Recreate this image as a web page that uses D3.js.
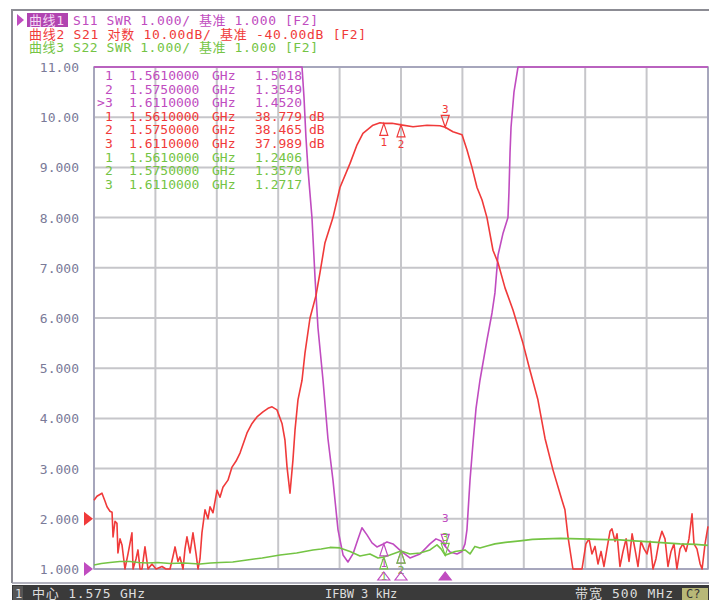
<!DOCTYPE html>
<html>
<head>
<meta charset="utf-8">
<script src="https://cdn.jsdelivr.net/npm/d3@7"></script>
<style>
body { margin: 0; background: #fff; }
text { font-family: "DejaVu Sans Mono", "Noto Sans CJK SC", monospace; }
</style>
</head>
<body>
<div id="chart"></div>
<script>
var width = 709;
var height = 600;

// header lines
var headerLabels = ['曲线1', '曲线2', '曲线3'];
var headerTexts = [' S11 SWR 1.000/ 基准 1.000 [F2]',
                   ' S21 对数 10.00dB/ 基准 -40.00dB [F2]',
                   ' S22 SWR 1.000/ 基准 1.000 [F2]'];

// axis: 1.575 GHz centre, 500 MHz span
var freqStart = 1325, freqStop = 1825;
var yTicks = [1, 2, 3, 4, 5, 6, 7, 8, 9, 10, 11];
var xDivs = [1325, 1375, 1425, 1475, 1525, 1575, 1625, 1675, 1725, 1775, 1825];

// markers
var markerFreq = [1561, 1575, 1611];
var s11Mark = [1.5018, 1.3549, 1.4520];
var s21Mark = [38.779, 38.465, 37.989];
var s22Mark = [1.2406, 1.3570, 1.2717];

// S11 SWR (clipped at 11 on screen)
var s11Freq = [1325, 1494.4, 1496.0, 1497.6, 1499.3, 1502.5, 1505.0, 1507.4, 1511.5, 1515.5, 1519.6,
               1523.7, 1527.8, 1531.8, 1535.9, 1540.0, 1543.2, 1547.3, 1551.4, 1555.4, 1561, 1563.6,
               1568.5, 1575, 1582.3, 1590.5, 1598.6, 1603.5, 1607.6, 1611, 1614.9, 1620.6, 1624.7,
               1627.1, 1628.7, 1631.2, 1633.6, 1636.1, 1639.3, 1645.0, 1649.1, 1651.5, 1654.0, 1658.1,
               1662.1, 1662.9, 1663.8, 1664.6, 1667.0, 1670.3, 1825];
var s11Swr = [11, 11, 10.4, 9.6, 8.95, 8.0, 6.8, 5.8, 4.76, 3.6, 2.77,
              1.78, 1.28, 1.14, 1.3, 1.6, 1.82, 1.68, 1.52, 1.44, 1.5018, 1.54,
              1.5, 1.3549, 1.22, 1.3, 1.5, 1.6, 1.56, 1.452, 1.34, 1.3, 1.35,
              1.5, 1.78, 2.77, 3.5, 4.2, 4.76, 5.56, 6.1, 6.5, 7.25, 7.69,
              8.0, 8.5, 9.3, 9.8, 10.5, 11, 11];

// S21 log mag dB
var s21Freq = [1325, 1327.4, 1331.5, 1334.0, 1335.6, 1338.0, 1339.7, 1340.5, 1342.1, 1343.7, 1344.5,
               1346.2, 1347.8, 1350.2, 1352.7, 1355.9, 1356.8, 1359.2, 1360.8, 1362.5, 1364.1, 1366.5,
               1369.0, 1372.2, 1375.5, 1380.4, 1383.6, 1386.9, 1389.3, 1391.0, 1393.4, 1395.0, 1397.5,
               1399.1, 1400.7, 1403.2, 1405.6, 1408.1, 1409.7, 1411.3, 1412.9, 1415.4, 1417.8, 1419.5,
               1421.9, 1425.2, 1427.6, 1430.0, 1434.1, 1437.4, 1440.7, 1443.9, 1449.6, 1453.7, 1457.7,
               1462.6, 1466.7, 1470.0, 1474.0, 1478.1, 1480.5, 1482.2, 1484.6, 1487.0, 1488.7, 1491.1,
               1494.4, 1496.8, 1500.9, 1505.8, 1509.0, 1513.1, 1519.6, 1525.3, 1533.5, 1539.2, 1544.0,
               1552.2, 1557.9, 1561, 1567.7, 1575, 1584.8, 1596.2, 1606.7, 1611, 1617.3, 1624.7,
               1628.7, 1632.8, 1636.9, 1641.0, 1645.0, 1649.9, 1654.0, 1659.7, 1666.2, 1674.3, 1680.0,
               1686.5, 1692.3, 1698.8, 1706.1, 1708.5, 1711.0, 1715.0, 1719.1, 1722.4, 1725.6, 1728.1,
               1730.5, 1733.0, 1735.4, 1737.9, 1740.3, 1742.7, 1745.2, 1746.8, 1749.3, 1750.9, 1753.3,
               1755.8, 1758.3, 1760.7, 1763.2, 1765.5, 1768.0, 1770.4, 1772.9, 1775.3, 1777.8, 1780.2,
               1782.6, 1785.1, 1787.5, 1790.0, 1792.4, 1794.9, 1797.3, 1799.7, 1802.2, 1804.6, 1807.1,
               1809.5, 1812.0, 1813.6, 1816.0, 1818.6, 1820.2, 1822.6, 1825];
var s21Db = [-36.3, -35.5, -34.9, -36.5, -37.6, -38.5, -38.7, -43.6, -40.5, -40.9, -46.8,
             -44.0, -45.2, -50, -47, -42.8, -50, -48, -46.2, -50, -50, -45.6,
             -50, -49, -50, -49.5, -50, -50, -47.5, -45.6, -48.5, -47.6, -50,
             -46, -43.6, -46.8, -42.8, -47, -50, -48, -42.8, -38.2, -40, -37.6,
             -38.8, -34.3, -35.7, -33.7, -32.3, -29.7, -28.5, -26.9, -22.9, -21, -19.7,
             -18.7, -18, -17.7, -18.3, -21, -24.3, -29.7, -34.9, -28.3, -22.3, -16.3,
             -12.4, -7, 0, 4.5, 9, 15, 20, 26, 30.8, 34.5, 36.8,
             38.4, 38.9, 38.779, 38.8, 38.465, 38.1, 38.4, 38.3, 37.989, 37.1, 36.5,
             33.5, 30, 26, 23.5, 20, 13.5, 11, 6, 1.6, -5, -10.4,
             -16.3, -24, -30.3, -36.3, -38.2, -43.6, -50, -50, -50, -45, -44,
             -47, -45.5, -49, -46.5, -49.5, -46, -42.5, -42, -44.5, -43, -49.5,
             -46.5, -44, -48.5, -43, -46, -49.5, -44.5, -46, -47, -44.5, -50,
             -48, -44.5, -42.5, -44, -49.5, -46.5, -45, -50, -46, -45, -46.5,
             -44, -39, -45, -46, -49, -50, -45, -41.5];

// S22 SWR
var s22Freq = [1325, 1331, 1338.0, 1346, 1354.3, 1361, 1368.2, 1377, 1386.9, 1398, 1411.3, 1420,
               1427.6, 1438, 1449.6, 1462, 1476.5, 1490, 1503.3, 1510, 1517.2, 1525.3, 1533.5, 1541.6,
               1549.7, 1556.3, 1561, 1566.0, 1575, 1582.3, 1590.5, 1598.6, 1604.3, 1607.6, 1611,
               1619.0, 1627.1, 1631.2, 1635.2, 1639.3, 1645, 1651.5, 1660, 1671.9, 1682, 1692.3, 1705,
               1720.7, 1735, 1753.3, 1765, 1777.8, 1790, 1802.2, 1815, 1825];
var s22Swr = [1.08, 1.11, 1.13, 1.15, 1.15, 1.13, 1.12, 1.13, 1.11, 1.12, 1.10, 1.12,
              1.13, 1.14, 1.18, 1.22, 1.28, 1.32, 1.38, 1.4, 1.43, 1.42, 1.35, 1.26,
              1.3, 1.22, 1.2406, 1.28, 1.357, 1.3, 1.32, 1.38, 1.48, 1.4, 1.2717,
              1.35, 1.38, 1.3, 1.45, 1.42, 1.46, 1.5, 1.53, 1.56, 1.59, 1.6, 1.61,
              1.6, 1.59, 1.58, 1.56, 1.54, 1.52, 1.5, 1.49, 1.47];

var purple = '#c04cc0', red = '#f03a3a', green = '#74c444';

var svg = d3.select('#chart').append('svg').attr('width', width).attr('height', height);

var x = d3.scaleLinear().domain([freqStart, freqStop]).range([94, 708]);
var y = d3.scaleLinear().domain([1, 11]).range([569, 67]);
var yDb = d3.scaleLinear().domain([-50, 50]).range([569, 67]);
var fmt = d3.format('.4r');

svg.append('rect').attr('width', width).attr('height', height).attr('fill', '#fff');

// outer frame
svg.append('path').attr('d', 'M12,583V10H709').attr('fill', 'none')
    .attr('stroke', '#8c8c94').attr('stroke-width', 2);
svg.append('line').attr('x1', 12).attr('x2', 709).attr('y1', 583).attr('y2', 583)
    .attr('stroke', '#9a9aa8').attr('stroke-width', 1.5);

// status bar
svg.append('rect').attr('x', 12).attr('y', 585).attr('width', width - 12).attr('height', 15).attr('fill', '#3a3a3a');
svg.append('rect').attr('x', 13).attr('y', 586).attr('width', 10).attr('height', 14).attr('fill', '#555');
svg.append('text').attr('x', 15).attr('y', 598).attr('fill', '#ddd').style('font-size', '12px').text('1');
svg.append('text').attr('x', 32).attr('y', 598).attr('fill', '#ddd').style('font-size', '13px')
    .attr('textLength', 113).attr('lengthAdjust', 'spacing').text('中心 1.575 GHz');
svg.append('text').attr('x', 325).attr('y', 598).attr('fill', '#ddd').style('font-size', '12px').text('IFBW 3 kHz');
svg.append('text').attr('x', 575).attr('y', 598).attr('fill', '#ddd').style('font-size', '13px')
    .attr('textLength', 98).attr('lengthAdjust', 'spacing').text('带宽 500 MHz');
svg.append('rect').attr('x', 682).attr('y', 588).attr('width', 26).attr('height', 12).attr('fill', '#b8b878');
svg.append('text').attr('x', 686).attr('y', 598).attr('fill', '#333').style('font-size', '12px').text('C?');

// header
var headerColors = [purple, red, green];
var headerLen = [289, 337, 289];
svg.append('path').attr('d', 'M17,14L24,20L17,26Z').attr('fill', purple);
svg.append('rect').attr('x', 27).attr('y', 13).attr('width', 41).attr('height', 14).attr('fill', '#b044b0');
for (var i = 0; i < 3; i++) {
    var t = svg.append('text').attr('x', 29).attr('y', 25 + i * 13.5)
        .attr('textLength', headerLen[i]).attr('lengthAdjust', 'spacing')
        .style('font-size', '13px').attr('fill', headerColors[i]);
    t.append('tspan').attr('fill', i == 0 ? '#f4d8f4' : headerColors[i]).text(headerLabels[i]);
    t.append('tspan').text(headerTexts[i]);
}

// grid
svg.selectAll('.hgrid').data(yTicks).enter().append('line')
    .attr('x1', 94).attr('x2', 708)
    .attr('y1', function(d){ return y(d); }).attr('y2', function(d){ return y(d); })
    .attr('stroke', '#c6c6ca').attr('stroke-width', 2);
svg.selectAll('.vgrid').data(xDivs).enter().append('line')
    .attr('y1', 67).attr('y2', 569)
    .attr('x1', function(d){ return x(d); }).attr('x2', function(d){ return x(d); })
    .attr('stroke', '#c6c6ca').attr('stroke-width', 2);

// plot frame
svg.append('rect').attr('x', 94).attr('y', 67).attr('width', 614).attr('height', 502)
    .attr('fill', 'none').attr('stroke', '#9c9cb8').attr('stroke-width', 1.5);

// y labels
svg.selectAll('.ylab').data(yTicks).enter().append('text')
    .attr('x', 79).attr('y', function(d){ return y(d) + 5; })
    .attr('text-anchor', 'end').attr('fill', '#7a7a98').style('font-size', '13px')
    .text(function(d){ return fmt(d); });

// reference arrows
svg.append('path').attr('d', 'M84,' + (y(2) - 7) + 'L93,' + y(2) + 'L84,' + (y(2) + 7) + 'Z').attr('fill', red);
svg.append('path').attr('d', 'M84,' + (y(1) - 7) + 'L93,' + y(1) + 'L84,' + (y(1) + 7) + 'Z').attr('fill', purple);

svg.append('clipPath').attr('id', 'plotclip').append('rect')
    .attr('x', 93).attr('y', 66).attr('width', 616).attr('height', 504);

var g = svg.append('g').attr('clip-path', 'url(#plotclip)');

function drawTrace(freqs, vals, sc, color) {
    var pts = freqs.map(function(f, k){ return [f, vals[k]]; });
    var line = d3.line()
        .x(function(d){ return x(d[0]); })
        .y(function(d){ return sc(Math.max(sc.domain()[0], Math.min(sc.domain()[1], d[1]))); });
    g.append('path').datum(pts).attr('d', line)
        .attr('fill', 'none').attr('stroke', color).attr('stroke-width', 1.6)
        .attr('stroke-linejoin', 'round');
}

drawTrace(s11Freq, s11Swr, y, purple);
drawTrace(s21Freq, s21Db, yDb, red);
drawTrace(s22Freq, s22Swr, y, green);

// marker symbols on traces
function drawMarkers(vals, sc, color, labelUp) {
    for (var k = 0; k < markerFreq.length; k++) {
        var mx = x(markerFreq[k]);
        var my = sc(vals[k]);
        if (k < 2) {
            svg.append('path').attr('d', 'M' + mx + ',' + my + 'L' + (mx + 4) + ',' + (my + 12) + 'L' + (mx - 4) + ',' + (my + 12) + 'Z')
                .attr('fill', 'none').attr('stroke', color).attr('stroke-width', 1.2);
            svg.append('text').attr('x', mx).attr('y', my + 23).attr('text-anchor', 'middle')
                .attr('fill', color).style('font-size', '11px').text(k + 1);
        } else {
            svg.append('path').attr('d', 'M' + mx + ',' + my + 'L' + (mx + 4) + ',' + (my - 12) + 'L' + (mx - 4) + ',' + (my - 12) + 'Z')
                .attr('fill', 'none').attr('stroke', color).attr('stroke-width', 1.2);
            svg.append('text').attr('x', mx).attr('y', my - labelUp).attr('text-anchor', 'middle')
                .attr('fill', color).style('font-size', '11px').text(k + 1);
        }
    }
}
drawMarkers(s21Mark, yDb, red, 14);
drawMarkers(s11Mark, y, purple, 24);
drawMarkers(s22Mark, y, green, 14);

// stimulus markers under the grid
for (var k = 0; k < markerFreq.length; k++) {
    var sx = x(markerFreq[k]);
    svg.append('path').attr('d', 'M' + sx + ',572L' + (sx + 6) + ',580L' + (sx - 6) + ',580Z')
        .attr('fill', k == 2 ? purple : 'none').attr('stroke', purple).attr('stroke-width', 1.2);
}

// marker table
var tableColors = [purple, red, green];
var tableVals = [s11Mark.map(function(v){ return v.toFixed(4); }),
                 s21Mark.map(function(v){ return v.toFixed(3); }),
                 s22Mark.map(function(v){ return v.toFixed(4); })];
for (var tr = 0; tr < 3; tr++) {
    for (var k = 0; k < 3; k++) {
        var ty = 80 + (tr * 3 + k) * 13.6;
        var c = tableColors[tr];
        if (tr == 0 && k == 2) {
            svg.append('text').attr('x', 97).attr('y', ty).attr('fill', c).style('font-size', '13px').text('>');
        }
        svg.append('text').attr('x', 105).attr('y', ty).attr('fill', c).style('font-size', '13px').text(k + 1);
        svg.append('text').attr('x', 129).attr('y', ty).attr('fill', c).style('font-size', '13px')
            .text((markerFreq[k] / 1000).toFixed(7));
        svg.append('text').attr('x', 212).attr('y', ty).attr('fill', c).style('font-size', '13px').text('GHz');
        svg.append('text').attr('x', 302).attr('y', ty).attr('text-anchor', 'end').attr('fill', c)
            .style('font-size', '13px').text(tableVals[tr][k]);
        if (tr == 1) {
            svg.append('text').attr('x', 309).attr('y', ty).attr('fill', c).style('font-size', '13px').text('dB');
        }
    }
}
</script>
</body>
</html>
